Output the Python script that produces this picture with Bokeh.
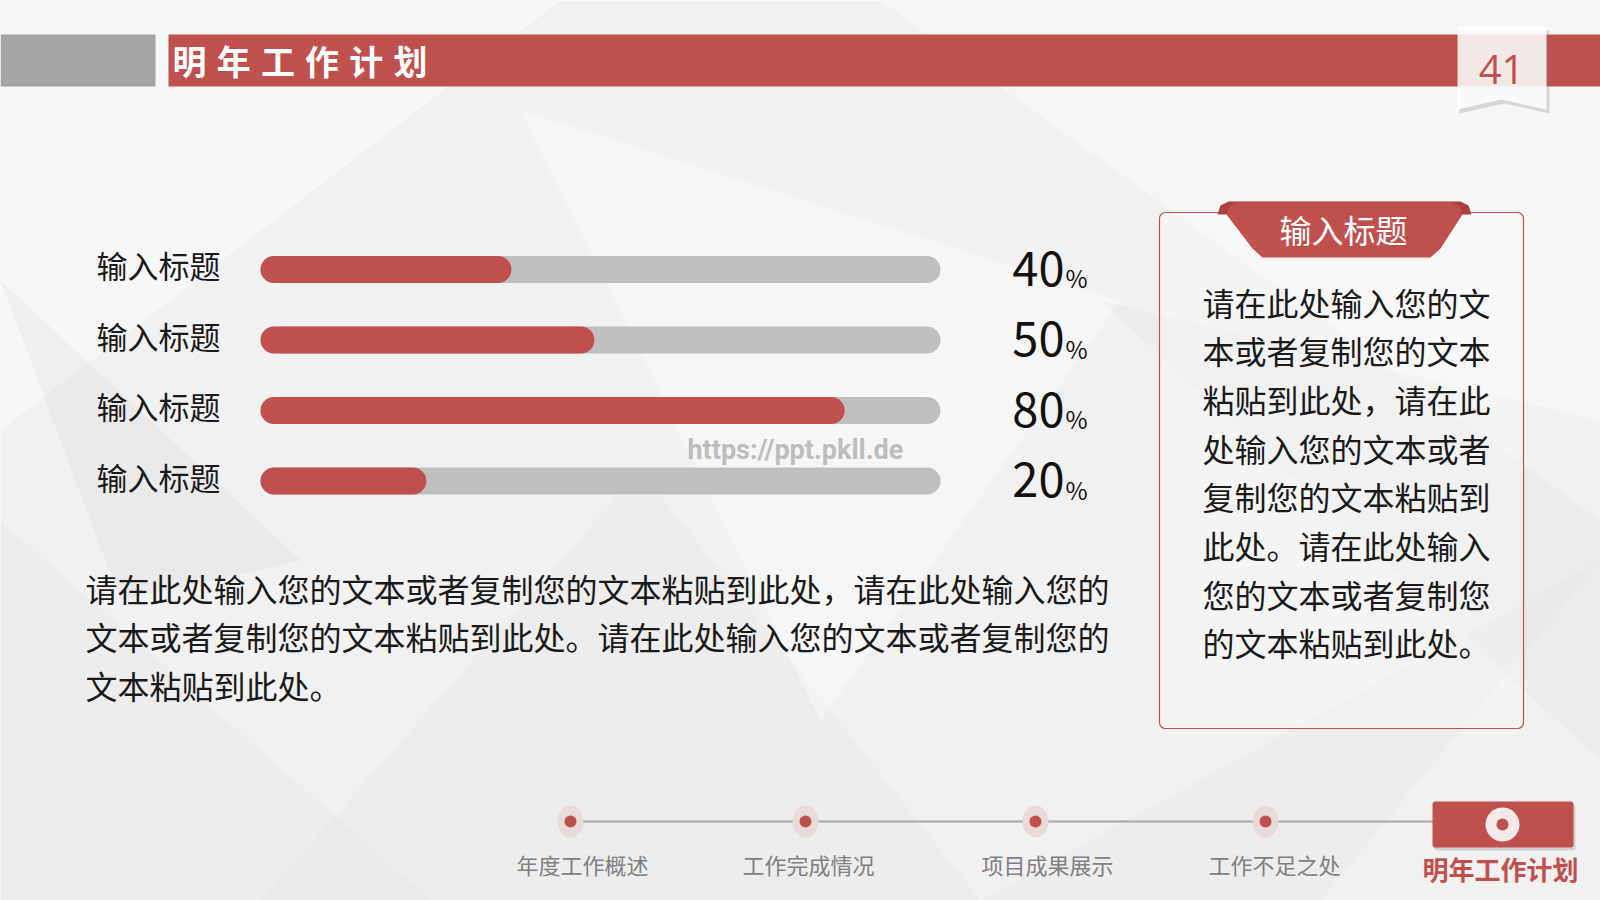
from bokeh.plotting import figure
from bokeh.models import Range1d
from bokeh.core.properties import value
from bokeh.embed import file_html
from bokeh.resources import INLINE

# ---------------- data ----------------
categories = ["输入标题", "输入标题", "输入标题", "输入标题"]
bar_fill = [36.9, 49.1, 85.9, 24.4]      # filled share of each progress bar as drawn (%)
pct_values = ["40", "50", "80", "20"]    # printed percentages
slide_title = "明年工作计划"
page_no = "41"
panel_title = "输入标题"
panel_lines = [
    "请在此处输入您的文",
    "本或者复制您的文本",
    "粘贴到此处，请在此",
    "处输入您的文本或者",
    "复制您的文本粘贴到",
    "此处。请在此处输入",
    "您的文本或者复制您",
    "的文本粘贴到此处。",
]
para_lines = [
    "请在此处输入您的文本或者复制您的文本粘贴到此处，请在此处输入您的",
    "文本或者复制您的文本粘贴到此处。请在此处输入您的文本或者复制您的",
    "文本粘贴到此处。",
]
nav_labels = ["年度工作概述", "工作完成情况", "项目成果展示", "工作不足之处"]
nav_current = "明年工作计划"
watermark = "https://ppt.pkll.de"

# ---------------- style / layout ----------------
RED = "#c0504d"
CJK = value("Noto Sans CJK SC")
BG = "#f1f1f1"

TRACK_L, TRACK_R = 260.0, 940.0
px_per_pct = (TRACK_R - TRACK_L) / 100.0

p = figure(width=1600, height=900, x_range=Range1d(0, 1600), y_range=Range1d(900, 0),
           output_backend="svg", toolbar_location=None, min_border=0,
           x_axis_location=None, y_axis_location=None)
p.grid.visible = False
p.outline_line_color = None
p.background_fill_color = BG
p.border_fill_color = BG
p.extra_x_ranges = {"pct": Range1d((0 - TRACK_L) / px_per_pct, (1600 - TRACK_L) / px_per_pct)}

# subtle low-poly background texture
bg_xs = [[0, 560, 0], [260, 980, 640], [880, 1600, 1600], [0, 430, 0], [980, 1600, 1320],
         [520, 1120, 820], [1100, 1600, 1600], [0, 300, 120]]
bg_ys = [[0, 0, 430], [900, 900, 470], [0, 0, 520], [520, 900, 900], [900, 560, 900],
         [110, 300, 720], [300, 420, 760], [280, 560, 600]]
bg_cols = ["#ffffff", "#d8d8d8", "#ffffff", "#d8d8d8", "#d8d8d8", "#ffffff", "#d0d0d0", "#c8c8c8"]
bg_alpha = [0.45, 0.14, 0.35, 0.16, 0.16, 0.35, 0.12, 0.16]
p.patches(bg_xs, bg_ys, fill_color=bg_cols, fill_alpha=bg_alpha, line_color=None)

# ---------------- header ----------------
p.quad(left=[0], right=[155], top=[34], bottom=[86], fill_color="#a6a6a6", line_color=None)
p.quad(left=[168], right=[1600], top=[34], bottom=[86], fill_color=RED, line_color=None)
title_chars = list(slide_title)
p.text(x=[189 + 44.2 * i for i in range(len(title_chars))], y=[60] * len(title_chars),
       text=title_chars, text_font=CJK, text_font_size="34px", text_font_style="bold",
       text_color="white", text_align="center", text_baseline="middle")

# page badge with shadow
p.patch([1459, 1549, 1549, 1504, 1459], [30, 30, 113, 103, 113], fill_color="#7a7a7a",
        fill_alpha=0.25, line_color=None)
p.patch([1457, 1546, 1546, 1501, 1457], [26, 26, 109, 99, 109], fill_color="#ffffff",
        fill_alpha=0.86, line_color=None)
p.text(x=[1501], y=[69], text=[page_no], text_font=value("Open Sans"), text_font_size="40px",
       text_color=RED, text_align="center", text_baseline="middle")

# ---------------- progress bars ----------------
rows_y = [269 + 70.5 * i for i in range(len(categories))]
p.hbar(y=rows_y, left=[0] * len(rows_y), right=[100] * len(rows_y), height=27,
       fill_color="#bfbfbf", line_color=None, border_radius=14, x_range_name="pct")
p.hbar(y=rows_y, left=[0] * len(rows_y), right=bar_fill, height=27,
       fill_color=RED, line_color=None, border_radius=14, x_range_name="pct")

p.text(x=[96] * len(rows_y), y=[y - 5 for y in rows_y], text=categories, text_font=CJK,
       text_font_size="31px", text_color="#1a1a1a", text_align="left", text_baseline="middle")

p.text(x=[1064] * len(rows_y), y=[y - 1 for y in rows_y], text=pct_values, text_font=CJK,
       text_font_size="47px", text_color="#111111", text_align="right", text_baseline="middle")
p.text(x=[1065] * len(rows_y), y=[y + 8 for y in rows_y], text=["%"] * len(rows_y), text_font=CJK,
       text_font_size="24px", text_color="#111111", text_align="left", text_baseline="middle")

p.text(x=[687], y=[449], text=[watermark], text_font=value("Roboto"), text_font_size="27px",
       text_font_style="bold", text_color="#bdbdbd", text_align="left", text_baseline="middle")

# ---------------- paragraph ----------------
p.text(x=[85] * len(para_lines), y=[587 + 48.5 * i for i in range(len(para_lines))],
       text=para_lines, text_font=CJK, text_font_size="32px", text_color="#1a1a1a",
       text_align="left", text_baseline="middle")

# ---------------- right panel ----------------
p.quad(left=[1159], right=[1523], top=[212], bottom=[728], fill_color="#ffffff", fill_alpha=0.25,
       line_color=RED, line_width=1.2, border_radius=6)
p.patch([1217, 1220, 1228, 1460, 1468, 1471, 1462, 1226],
        [214, 205, 201, 201, 205, 214, 214, 214], fill_color="#a8403d", line_color=None)
p.patch([1226, 1229, 1236, 1452, 1459, 1462, 1440, 1430, 1262, 1252],
        [214, 206, 202, 202, 206, 214, 248, 257, 257, 248], fill_color=RED, line_color=None)
p.text(x=[1343], y=[228], text=[panel_title], text_font=CJK, text_font_size="32px",
       text_color="white", text_align="center", text_baseline="middle")
p.text(x=[1202] * len(panel_lines), y=[301 + 48.7 * i for i in range(len(panel_lines))],
       text=panel_lines, text_font=CJK, text_font_size="32px", text_color="#1a1a1a",
       text_align="left", text_baseline="middle")

# ---------------- bottom navigation ----------------
p.segment(x0=[571], y0=[821], x1=[1434], y1=[821], line_color="#a6a6a6", line_width=2)
dot_x = [570, 805, 1035, 1265]
p.ellipse(x=dot_x, y=[821] * 4, width=26, height=32, fill_color="#eadbdb", line_color=None)
p.circle(x=dot_x, y=[821] * 4, radius=6, fill_color=RED, line_color=None)
p.text(x=[582, 808, 1047, 1274], y=[863] * 4, text=nav_labels, text_font=CJK,
       text_font_size="22px", text_color="#808080", text_align="center", text_baseline="middle")

p.quad(left=[1434], right=[1575], top=[804], bottom=[850], fill_color="#888888", fill_alpha=0.3,
       line_color=None, border_radius=3)
p.quad(left=[1432], right=[1573], top=[801], bottom=[847], fill_color=RED, line_color=None,
       border_radius=3)
p.circle(x=[1502], y=[824], radius=17, fill_color="#f4e8e8", line_color=None)
p.circle(x=[1502], y=[824], radius=6, fill_color=RED, line_color=None)
p.text(x=[1500], y=[868], text=[nav_current], text_font=CJK, text_font_size="26px",
       text_font_style="bold", text_color=RED, text_align="center", text_baseline="middle")

open("out.html", "w").write(file_html(p, INLINE))
